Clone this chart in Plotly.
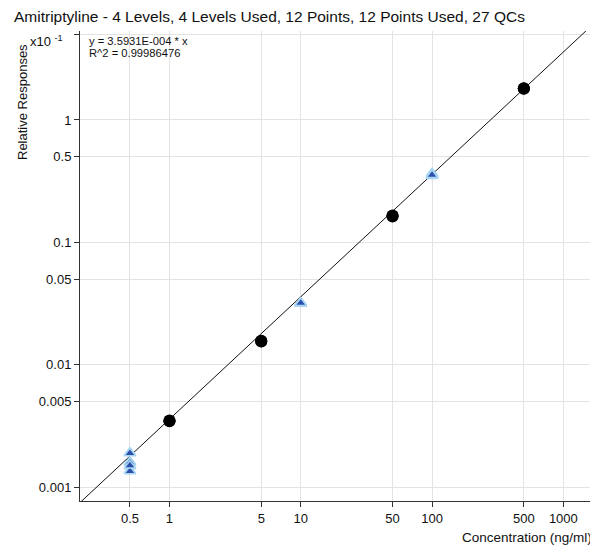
import plotly.graph_objects as go

# Calibration standards (4 levels x 3 replicates)
std_conc = [1, 1, 1, 5, 5, 5, 50, 50, 50, 500, 500, 500]
std_resp = [0.000345, 0.000350, 0.000348,
            0.00156, 0.00157, 0.00155,
            0.0164, 0.0166, 0.0163,
            0.181, 0.182, 0.180]

# QC samples (27)
qc_conc = [0.5] * 9 + [10] * 9 + [100] * 9
qc_resp = [0.000191, 0.000189, 0.000161, 0.000160, 0.000148,
           0.000158, 0.000136, 0.000135, 0.000150,
           0.00318, 0.00320, 0.00317, 0.00319, 0.00318,
           0.00321, 0.00316, 0.00318, 0.00319,
           0.0351, 0.0367, 0.0353, 0.0350, 0.0358,
           0.0352, 0.0362, 0.0349, 0.0355]

slope = 3.5931e-4
fit_x = [0.2, 2000]
fit_y = [slope * v for v in fit_x]

x_ticks = [0.5, 1, 5, 10, 50, 100, 500, 1000]
x_ticktext = ["0.5", "1", "5", "10", "50", "100", "500", "1000"]
y_ticks = [0.0001, 0.0005, 0.001, 0.005, 0.01, 0.05, 0.1, 0.5]
y_ticktext = ["0.001", "0.005", "0.01", "0.05", "0.1", "0.5", "1", ""]

FONT = "Liberation Sans, Arial, sans-serif"

fig = go.Figure()
fig.add_trace(go.Scatter(x=fit_x, y=fit_y, mode="lines",
                         line=dict(color="#111111", width=1),
                         hoverinfo="skip", showlegend=False))
fig.add_trace(go.Scatter(x=qc_conc, y=qc_resp, mode="markers",
                         marker=dict(symbol="triangle-up", size=10, color="#2d50ad",
                                     line=dict(color="#a9d6f2", width=1.5)),
                         showlegend=False))
fig.add_trace(go.Scatter(x=std_conc, y=std_resp, mode="markers",
                         marker=dict(symbol="circle", size=12, color="#000000"),
                         showlegend=False))

fig.update_layout(
    width=590, height=538,
    margin=dict(l=72, r=0, t=23, b=45),
    paper_bgcolor="white", plot_bgcolor="white",
    font=dict(family=FONT, size=13, color="#111111"),
    xaxis=dict(type="log", range=[-0.6816, 3.264],
               tickvals=x_ticks, ticktext=x_ticktext,
               showgrid=True, gridcolor="#e3e3e3", gridwidth=1,
               showline=True, linecolor="#333333", linewidth=1,
               ticks="outside", ticklen=5, tickcolor="#333333",
               zeroline=False, tickfont=dict(size=13), automargin=False),
    yaxis=dict(type="log", range=[-4.113, -0.2729],
               tickvals=y_ticks, ticktext=y_ticktext,
               showgrid=True, gridcolor="#e3e3e3", gridwidth=1,
               showline=True, linecolor="#333333", linewidth=1,
               ticks="outside", ticklen=5, tickcolor="#333333",
               zeroline=False, tickfont=dict(size=13), automargin=False),
    annotations=[
        dict(text="Amitriptyline - 4 Levels, 4 Levels Used, 12 Points, 12 Points Used, 27 QCs",
             xref="paper", yref="paper", x=0.0, y=1.0, xshift=-68, yshift=15,
             xanchor="left", yanchor="middle", showarrow=False,
             font=dict(size=15.5)),
        dict(text="y = 3.5931E-004 * x",
             xref="paper", yref="paper", x=0.0, y=1.0, xshift=7, yshift=-10,
             xanchor="left", yanchor="middle", showarrow=False,
             font=dict(size=11.2)),
        dict(text="R^2 = 0.99986476",
             xref="paper", yref="paper", x=0.0, y=1.0, xshift=7, yshift=-22,
             xanchor="left", yanchor="middle", showarrow=False,
             font=dict(size=11.2)),
        dict(text="x10 <sup>-1</sup>",
             xref="paper", yref="paper", x=0.0, y=1.0, xshift=-52, yshift=-10,
             xanchor="left", yanchor="middle", showarrow=False,
             font=dict(size=13)),
        dict(text="Relative Responses", textangle=-90,
             xref="paper", yref="paper", x=0.0, y=1.0, xshift=-58, yshift=-71,
             xanchor="center", yanchor="middle", showarrow=False,
             font=dict(size=13)),
        dict(text="Concentration (ng/ml)",
             xref="paper", yref="paper", x=1.0, y=0.0, xshift=-4, yshift=-36,
             xanchor="right", yanchor="middle", showarrow=False,
             font=dict(size=13.5)),
    ],
)

fig.write_html("out.html")
